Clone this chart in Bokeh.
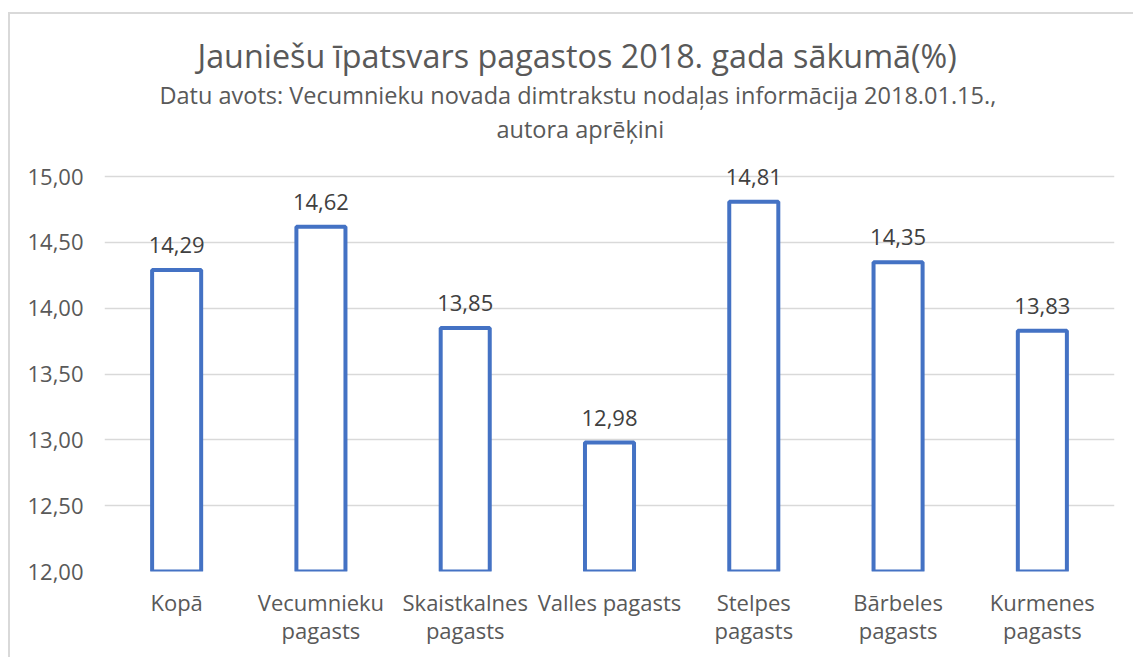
from bokeh.plotting import figure
from bokeh.models import ColumnDataSource, FixedTicker, CustomJSTickFormatter, Range1d, Title
from bokeh.core.properties import value
from bokeh.embed import file_html
from bokeh.resources import INLINE

categories = ["Kopā", "Vecumnieku\npagasts", "Skaistkalnes\npagasts", "Valles pagasts",
              "Stelpes\npagasts", "Bārbeles\npagasts", "Kurmenes\npagasts"]
values = [14.29, 14.62, 13.85, 12.98, 14.81, 14.35, 13.83]
y_ticks = [12.0, 12.5, 13.0, 13.5, 14.0, 14.5, 15.0]

title_text = "Jauniešu īpatsvars pagastos 2018. gada sākumā(%)"
subtitle_1 = "Datu avots: Vecumnieku novada dimtrakstu nodaļas informācija 2018.01.15.,"
subtitle_2 = "autora aprēķini"

FONT = "Open Sans"
TXT = "#595959"

labels = [f"{v:.2f}".replace(".", ",") for v in values]
src = ColumnDataSource(dict(cat=categories, val=values, lab=labels))

p = figure(x_range=categories, y_range=Range1d(12, 15.1), width=1133, height=657,
           output_backend="svg", toolbar_location=None,
           min_border_left=104, min_border_right=19, min_border_bottom=86, min_border_top=163)
p.outline_line_color = None
p.background_fill_color = "white"
p.border_fill_color = None
p.styles = {
    "background": ("linear-gradient(#D9D9D9, #D9D9D9) 9px 12px / 100% 2px no-repeat, "
                   "linear-gradient(#D9D9D9, #D9D9D9) 8px 12px / 2px 100% no-repeat, white"),
}

# spacer between the plot area and the subtitle
p.add_layout(Title(text=" ", text_font_size="1px", standoff=16), "above")
for txt, size, off in [(subtitle_2, "23.5px", 392), (subtitle_1, "23.5px", 55),
                       (title_text, "32.3px", 93)]:
    p.add_layout(Title(text=txt, align="left", text_font_size=size, text_font=FONT,
                       text_color=TXT, text_font_style="normal", standoff=0,
                       offset=off), "above")

p.vbar(x="cat", top="val", bottom=12, width=0.34, source=src,
       fill_color="white", line_color="#4472C4", line_width=4)

p.text(x="cat", y="val", text="lab", source=src, text_align="center",
       text_baseline="alphabetic", y_offset=-25, text_font=value(FONT),
       text_font_size="22px", text_color="#404040")

p.yaxis.ticker = FixedTicker(ticks=y_ticks)
p.yaxis.formatter = CustomJSTickFormatter(code="return tick.toFixed(2).replace('.', ',');")
for ax in (p.xaxis, p.yaxis):
    ax.axis_line_color = None
    ax.major_tick_line_color = None
    ax.minor_tick_line_color = None
    ax.major_label_text_font = FONT
    ax.major_label_text_font_size = "22px"
    ax.major_label_text_color = TXT
p.yaxis.major_label_standoff = 15
p.xaxis.major_label_standoff = 9
p.xaxis.major_label_text_line_height = 0.94

p.xgrid.grid_line_color = None
p.ygrid.ticker = FixedTicker(ticks=y_ticks)
p.ygrid.grid_line_color = "#D9D9D9"
p.ygrid.grid_line_width = 1.5

open("out.html", "w").write(file_html(p, INLINE))
